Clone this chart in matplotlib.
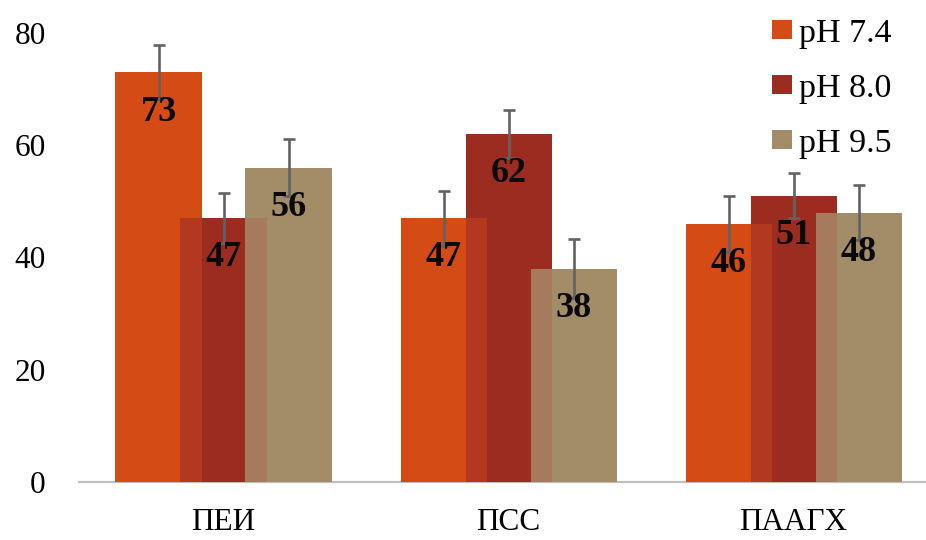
import matplotlib
matplotlib.use("Agg")
import matplotlib.pyplot as plt
from matplotlib.patches import Patch
import numpy as np

groups = ["ПЕИ", "ПСС", "ПААГХ"]
series = ["pH 7.4", "pH 8.0", "pH 9.5"]
ph74 = [73, 47, 46]
ph80 = [47, 62, 51]
ph95 = [56, 38, 48]
err74 = [4.8, 4.9, 5.0]
err80 = [4.5, 4.2, 4.0]
err95 = [5.1, 5.3, 4.9]

colors = ["#D44B16", "#9C2C1F", "#A38C68"]
blend_colors = ["#B33820", "#A57A5D"]

plt.rcParams["font.family"] = ["Liberation Serif", "DejaVu Serif"]

fig = plt.figure(figsize=(9.26, 5.4), dpi=100)
ax = fig.add_axes([79 / 926, 58 / 540, 846 / 926, 449 / 540])

x = np.arange(len(groups))
width = 0.302
step = 0.228
values = [ph74, ph80, ph95]
errors = [err74, err80, err95]
offsets = [-step, 0, step]

for vals, off, col in zip(values, offsets, colors):
    ax.bar(x + off, vals, width=width, color=col, linewidth=0, zorder=2)

# overlapping strips between neighbouring bars
for i in range(2):
    left = x + offsets[i + 1] - width / 2
    right = x + offsets[i] + width / 2
    h = np.minimum(values[i], values[i + 1])
    ax.bar(left, h, width=right - left, align="edge", color=blend_colors[i],
           linewidth=0, zorder=3)

for vals, errs, off in zip(values, errors, offsets):
    ax.errorbar(x + off, vals, yerr=errs, fmt="none", ecolor="#626262",
                elinewidth=1.9, capsize=4.5, capthick=1.9, zorder=4)

for vals, off in zip(values, offsets):
    for xi, v in zip(x, vals):
        ax.text(xi + off, v - 8.6, f"{v}", ha="center", va="baseline",
                fontsize=26, fontweight="bold", color="#0a0a0a", zorder=5)

ax.set_xlim(-0.507, 2.461)
ax.set_ylim(0, 80)
ax.set_yticks([0, 20, 40, 60, 80])
ax.set_xticks(x)
ax.set_xticklabels(groups)
ax.tick_params(axis="y", length=0, pad=24, labelsize=22.5)
ax.tick_params(axis="x", length=0, pad=19, labelsize=22.5)
for s in ["left", "top", "right"]:
    ax.spines[s].set_visible(False)
ax.spines["bottom"].set_color("#bfbfbf")
ax.spines["bottom"].set_linewidth(1.6)
ax.spines["bottom"].set_zorder(1)

handles = [Patch(facecolor=c, edgecolor="none") for c in colors]
fig.legend(handles, series, loc="upper left", bbox_to_anchor=(762 / 926, 0.985),
           frameon=False, fontsize=24.5, handlelength=0.58, handleheight=0.5,
           handletextpad=0.2, labelspacing=0.72, borderaxespad=0.0,
           borderpad=0.3)

fig.savefig("out.png", dpi=100)
